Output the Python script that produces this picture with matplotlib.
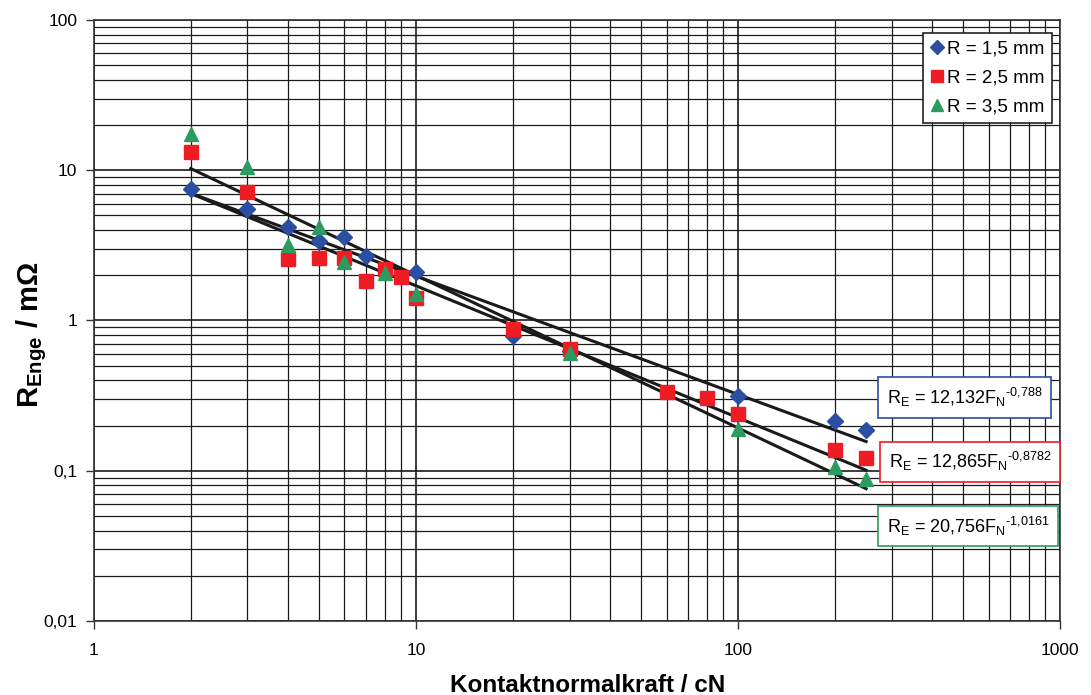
import numpy as np
import matplotlib
matplotlib.use('Agg')
import matplotlib.pyplot as plt
from matplotlib.ticker import LogLocator, FixedLocator, NullFormatter

plt.rcParams['font.family'] = ['Liberation Sans', 'DejaVu Sans']
plt.rcParams['mathtext.fontset'] = 'custom'
plt.rcParams['mathtext.rm'] = 'Liberation Sans'
plt.rcParams['mathtext.bf'] = 'Liberation Sans:bold'
plt.rcParams['mathtext.it'] = 'Liberation Sans:italic'

# data
x_15 = [2, 3, 4, 5, 6, 7, 10, 20, 30, 100, 200, 250]
y_15 = [7.5, 5.5, 4.2, 3.4, 3.6, 2.7, 2.1, 0.79, 0.63, 0.315, 0.214, 0.187]

x_25 = [2, 3, 4, 5, 6, 7, 8, 9, 10, 20, 30, 60, 80, 100, 200, 250]
y_25 = [13.2, 7.2, 2.57, 2.6, 2.6, 1.83, 2.2, 1.95, 1.41, 0.88, 0.65, 0.334, 0.305, 0.239, 0.137, 0.122]

x_35 = [2, 3, 4, 5, 6, 8, 10, 30, 100, 200, 250]
y_35 = [17.5, 10.5, 3.2, 4.2, 2.45, 2.07, 1.5, 0.61, 0.19, 0.106, 0.088]

# power-law trend lines R = a * F^b as printed on the chart
fit_a = [12.132, 12.865, 20.756]
fit_b = [-0.788, -0.8782, -1.0161]
fit_labels = ['12,132', '12,865', '20,756']
fit_exp = ['-0,788', '-0,8782', '-1,0161']

labels = ['R = 1,5 mm', 'R = 2,5 mm', 'R = 3,5 mm']
colors = ['#2B4EA2', '#EE1D23', '#2D9B5F']
markers = ['D', 's', '^']
sizes = [8, 9.5, 10.5]


def main():
    fig = plt.figure(figsize=(10.91, 6.95), dpi=100)
    ax = fig.add_axes([0.086, 0.1065, 0.8856, 0.8647])
    ax.set_xscale('log')
    ax.set_yscale('log')
    ax.set_xlim(1, 1000)
    ax.set_ylim(0.01, 100)

    ax.xaxis.set_minor_locator(LogLocator(base=10, subs=np.arange(2, 10)))
    ax.yaxis.set_minor_locator(LogLocator(base=10, subs=np.arange(2, 10)))
    ax.xaxis.set_minor_formatter(NullFormatter())
    ax.yaxis.set_minor_formatter(NullFormatter())
    ax.xaxis.set_major_locator(FixedLocator([1, 10, 100, 1000]))
    ax.yaxis.set_major_locator(FixedLocator([0.01, 0.1, 1, 10, 100]))
    ax.set_xticklabels(['1', '10', '100', '1000'])
    ax.set_yticklabels(['0,01', '0,1', '1', '10', '100'])
    ax.tick_params(which='major', length=6, width=1, labelsize=12.5, color='#333333')
    ax.tick_params(axis='x', which='major', pad=10)
    ax.tick_params(axis='y', which='major', pad=6)
    ax.tick_params(which='minor', length=0)

    ax.grid(True, which='major', color='#1a1a1a', lw=1.2)
    ax.grid(True, which='minor', color='#1a1a1a', lw=0.9)
    ax.set_axisbelow(True)
    for sp in ax.spines.values():
        sp.set_color('#333333')
        sp.set_linewidth(1.2)

    # trend lines
    xf = np.logspace(np.log10(2), np.log10(250), 100)
    for a, b in zip(fit_a, fit_b):
        ax.plot(xf, a * xf ** b, color='#1a1a1a', lw=2.2, zorder=3)

    series = [(x_15, y_15), (x_25, y_25), (x_35, y_35)]
    for (xs, ys), lab, c, m, s in zip(series, labels, colors, markers, sizes):
        ax.plot(xs, ys, ls='none', marker=m, ms=s, color=c, mec=c,
                label=lab, zorder=4)

    leg = ax.legend(loc='upper right', bbox_to_anchor=(0.992, 0.979),
                    fontsize=13.5, frameon=True, fancybox=False,
                    handlelength=0.6, handletextpad=0.25, borderpad=0.42,
                    labelspacing=0.62, markerscale=0.85, borderaxespad=0)
    leg.get_frame().set_edgecolor('#222222')
    leg.get_frame().set_linewidth(1.2)
    leg.get_frame().set_alpha(1)

    # equation boxes
    box_pos = [(0.821, 0.372), (0.823, 0.265), (0.821, 0.158)]
    for (bx, by), coef, ex, c in zip(box_pos, fit_labels, fit_exp, colors):
        txt = r'R$_{\mathrm{E}}$ = ' + coef + r'F$_{\mathrm{N}}$$^{\text{' + ex + '}}$'
        ax.text(bx, by, txt, transform=ax.transAxes, fontsize=13,
                va='center', ha='left', zorder=6,
                bbox=dict(boxstyle='square,pad=0.48', fc='white', ec=c, lw=1.2))

    ax.set_xlabel('Kontaktnormalkraft / cN', fontsize=17.5, fontweight='bold')
    ax.xaxis.set_label_coords(0.511, -0.088)
    ax.set_ylabel(r'R$_{\mathbf{Enge}}$ / m$\mathbf{\Omega}$', fontsize=21,
                  fontweight='bold')
    ax.yaxis.set_label_coords(-0.046, 0.476)

    fig.savefig('out.png', dpi=100)


if __name__ == '__main__':
    main()
